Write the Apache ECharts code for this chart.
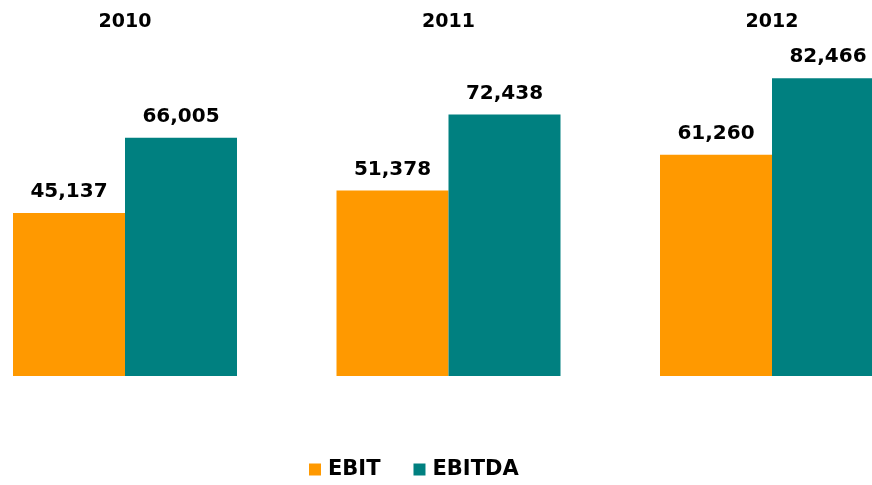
<!DOCTYPE html>
<html>
<head>
<meta charset="utf-8">
<script src="https://cdn.jsdelivr.net/npm/echarts@6/dist/echarts.min.js"></script>
<style>
html,body{margin:0;padding:0;background:#fff;}
#chart{width:872px;height:485px;}
</style>
</head>
<body>
<div id="chart"></div>
<script>
var categories = ['2010', '2011', '2012'];
var ebitValues = [45137, 51378, 61260];
var ebitdaValues = [66005, 72438, 82466];
var seriesNames = ['EBIT', 'EBITDA'];

var FONT = '"DejaVu Sans", "Liberation Sans", Arial, sans-serif';
var chart = echarts.init(document.getElementById('chart'), null, {renderer: 'canvas'});
var labelStyle = {
  show: true,
  position: 'top',
  distance: 11,
  fontFamily: FONT,
  fontWeight: 'bold',
  fontSize: 20,
  color: '#000',
  formatter: function (p) { return p.value.toLocaleString('en-US'); }
};
chart.setOption({
  animation: false,
  backgroundColor: '#fff',
  grid: {left: 125, right: 100, top: 51, bottom: 109, containLabel: false},
  legend: {
    data: seriesNames,
    left: 309,
    top: 459,
    padding: 0,
    itemWidth: 12,
    itemHeight: 12,
    itemGap: 33,
    icon: 'rect',
    textStyle: {fontFamily: FONT, fontWeight: 'bold', fontSize: 21, color: '#000', padding: [0, 0, 0, 2]}
  },
  xAxis: {
    type: 'category',
    position: 'top',
    boundaryGap: false,
    data: categories,
    axisLine: {show: false},
    axisTick: {show: false},
    splitLine: {show: false},
    axisLabel: {margin: 19, fontFamily: FONT, fontWeight: 'bold', fontSize: 19, color: '#000'}
  },
  yAxis: {
    type: 'value',
    min: 0,
    max: 90000,
    show: false,
    splitLine: {show: false}
  },
  series: [
    {name: seriesNames[0], type: 'bar', data: ebitValues, barWidth: 112, barGap: '0%', clip: false,
     itemStyle: {color: '#FF9900'}, label: labelStyle},
    {name: seriesNames[1], type: 'bar', data: ebitdaValues, barWidth: 112, barGap: '0%', clip: false,
     itemStyle: {color: '#008080'}, label: labelStyle}
  ]
});
</script>
</body>
</html>
